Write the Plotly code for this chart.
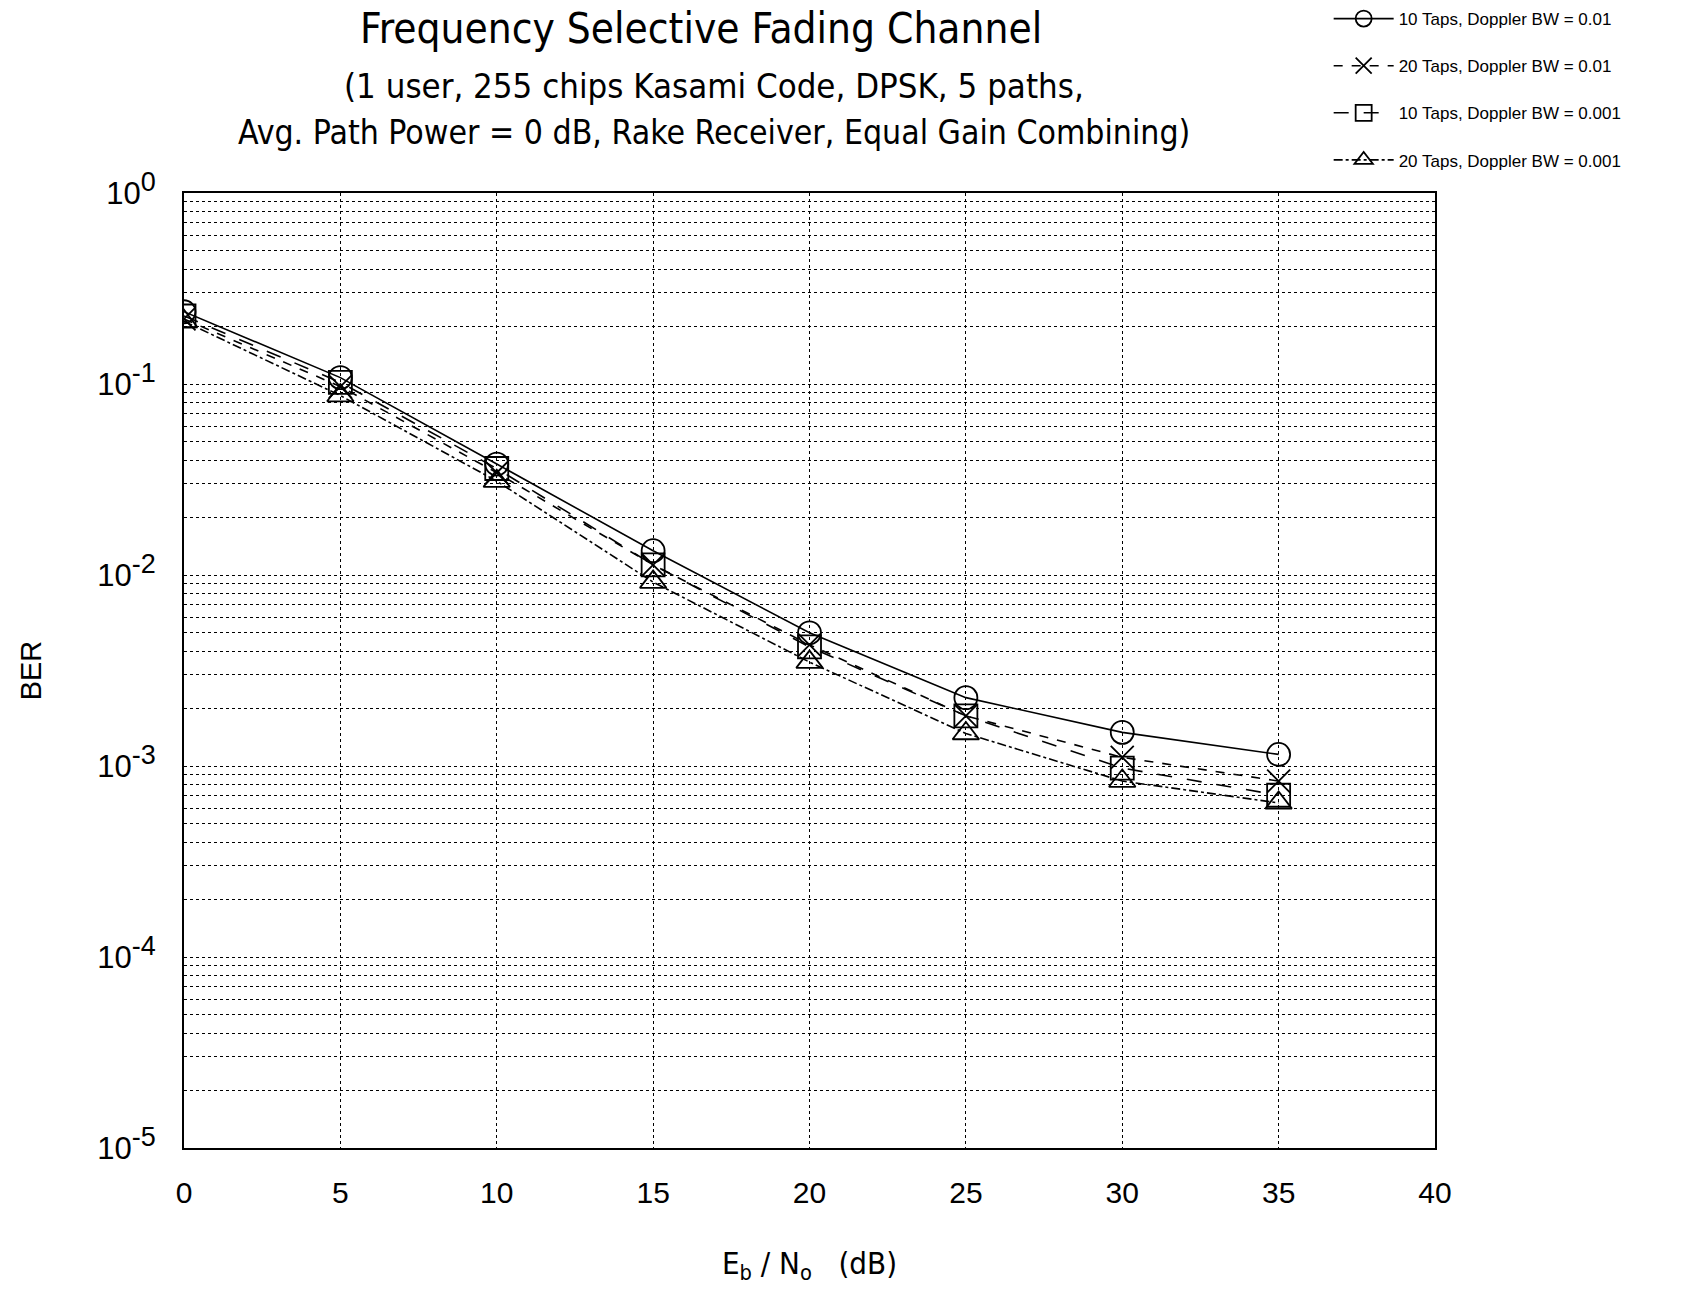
import plotly.graph_objects as go

ebno_db = [0, 5, 10, 15, 20, 25, 30, 35]

ber_10taps_bw001 = [0.239, 0.108, 0.0381, 0.0134, 0.00498, 0.00228, 0.0015, 0.00115]
ber_20taps_bw001 = [0.219, 0.097, 0.0343, 0.0113, 0.00431, 0.00183, 0.00111, 0.000834]
ber_10taps_bw0001 = [0.227, 0.102, 0.0361, 0.0113, 0.0042, 0.00183, 0.000975, 0.000703]
ber_20taps_bw0001 = [0.213, 0.087, 0.031, 0.00918, 0.0035, 0.00148, 0.000834, 0.000641]

series_names = [
    "10 Taps, Doppler BW = 0.01",
    "20 Taps, Doppler BW = 0.01",
    "10 Taps, Doppler BW = 0.001",
    "20 Taps, Doppler BW = 0.001",
]
series_values = [ber_10taps_bw001, ber_20taps_bw001, ber_10taps_bw0001, ber_20taps_bw0001]
series_symbols = ["circle-open", "x-thin-open", "square-open", "triangle-up-open"]
series_dash = ["solid", "dash", "longdash", "dashdot"]

y_tickvals = [1, 0.1, 0.01, 0.001, 0.0001, 0.00001]
y_exponents = ["0", "-1", "-2", "-3", "-4", "-5"]
y_ticktext = [f"10<sup><span style='font-size:27px'>{e}</span></sup>" for e in y_exponents]

FONT = "Liberation Sans, Arial, sans-serif"
NARROW = "DejaVu Sans Condensed, Liberation Sans Narrow, Liberation Sans, Arial, sans-serif"

fig = go.Figure()
for i, (name, vals, sym, dash) in enumerate(zip(series_names, series_values, series_symbols, series_dash)):
    fig.add_trace(go.Scatter(
        x=ebno_db, y=vals, name=name, mode="lines+markers",
        legendgroup=f"g{i}",
        line=dict(color="black", width=1.6, dash=dash),
        marker=dict(symbol=sym, size=23, color="black", line=dict(width=1.8, color="black")),
    ))

fig.update_layout(
    width=1697, height=1299,
    paper_bgcolor="white", plot_bgcolor="white",
    margin=dict(l=184, r=262, t=193, b=151, autoexpand=False),
    font=dict(family=FONT, color="black"),
    showlegend=True,
    legend=dict(
        x=0.915, y=1.201, xanchor="left", yanchor="top",
        font=dict(size=17, family=FONT, color="black"),
        bgcolor="rgba(0,0,0,0)", tracegroupgap=22, traceorder="grouped",
        itemwidth=60,
    ),
    xaxis=dict(
        range=[0, 40], dtick=5, tick0=0,
        showline=True, linecolor="black", linewidth=2, mirror=True,
        showgrid=True, gridcolor="black", griddash="dot", gridwidth=1.3,
        zeroline=False, ticks="", ticklabelstandoff=17,
        tickfont=dict(size=30, family=FONT),
        title=dict(text="E<sub>b</sub> / N<sub>o</sub>   (dB)", font=dict(size=31, family=NARROW), standoff=44),
    ),
    yaxis=dict(
        type="log", range=[-5, 0],
        tickvals=y_tickvals, ticktext=y_ticktext,
        showline=True, linecolor="black", linewidth=2, mirror=True,
        showgrid=True, gridcolor="black", griddash="dot", gridwidth=1.3,
        zeroline=False, ticks="", ticklabelstandoff=20,
        tickfont=dict(size=31, family=FONT),
        minor=dict(dtick="D1", showgrid=True, gridcolor="black", griddash="dot", gridwidth=1.1, ticks=""),
        title=dict(text="BER", font=dict(size=29, family=FONT), standoff=47),
    ),
)

fig.add_annotation(
    text="Frequency Selective Fading Channel", xref="paper", yref="paper",
    x=(701 - 184) / 1251, y=1 + (193 - 28) / 955, xanchor="center", yanchor="middle",
    showarrow=False, font=dict(size=42, family=NARROW),
)
fig.add_annotation(
    text="(1 user, 255 chips Kasami Code, DPSK, 5 paths,", xref="paper", yref="paper",
    x=(714 - 184) / 1251, y=1 + (193 - 86) / 955, xanchor="center", yanchor="middle",
    showarrow=False, font=dict(size=34.5, family=NARROW),
)
fig.add_annotation(
    text="Avg. Path Power = 0 dB, Rake Receiver, Equal Gain Combining)", xref="paper", yref="paper",
    x=(714 - 184) / 1251, y=1 + (193 - 133) / 955, xanchor="center", yanchor="middle",
    showarrow=False, font=dict(size=33.5, family=NARROW),
)

fig.write_html("out.html")
